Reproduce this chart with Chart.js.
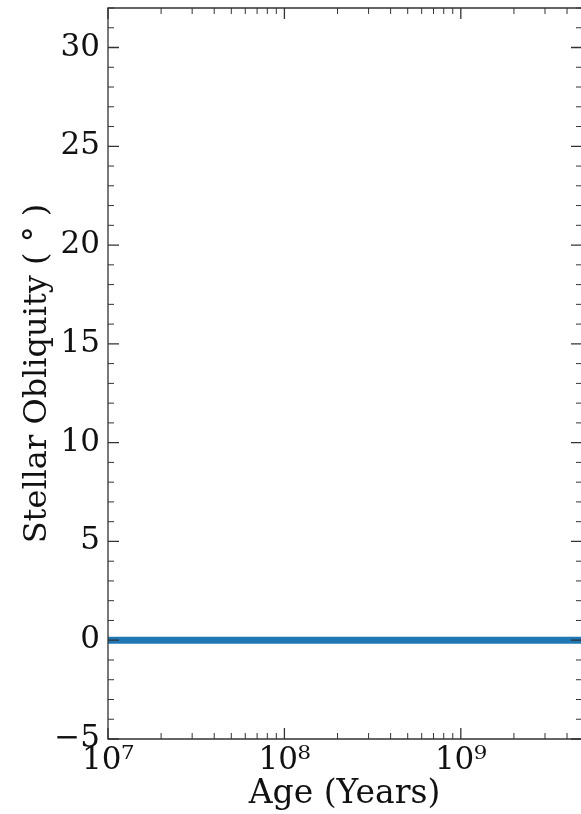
<!DOCTYPE html>
<html lang="en">
<head>
    <meta charset="UTF-8">
    <title>Stellar Obliquity vs Age</title>
    <script src="https://cdn.jsdelivr.net/npm/chart.js"></script>
    <style>
        body { margin: 0; padding: 0; background: #fff; }
        #wrap { width: 581px; height: 814px; }
    </style>
</head>
<body>
    <div id="wrap"><canvas id="chart" width="581" height="814"></canvas></div>

    <script>
        // data
        const ages = [1e7, 1e8, 1e9, 4.8e9];
        const obliquity = [0, 0, 0, 0];
        const xTickValues = [1e7, 1e8, 1e9];
        const xTickLabels = ["10\u2077", "10\u2078", "10\u2079"];
        const yTickValues = [-5, 0, 5, 10, 15, 20, 25, 30];

        const serif = "'DejaVu Serif', serif";

        // matplotlib style inward ticks on all four sides
        const inwardTicks = {
            id: 'inwardTicks',
            afterDraw(chart) {
                const ctx = chart.ctx;
                const a = chart.chartArea;
                const xs = chart.scales.x, ys = chart.scales.y;
                ctx.save();
                ctx.strokeStyle = '#333';
                ctx.lineWidth = 1.3;
                // right spine falls just outside the picture
                ctx.beginPath();
                ctx.moveTo(a.right + 2, a.top);
                ctx.lineTo(a.left, a.top);
                ctx.lineTo(a.left, a.bottom);
                ctx.lineTo(a.right + 2, a.bottom);
                ctx.stroke();

                function tick(px, len, horiz) {
                    ctx.beginPath();
                    if (horiz) {
                        ctx.moveTo(px, a.bottom); ctx.lineTo(px, a.bottom - len);
                        ctx.moveTo(px, a.top); ctx.lineTo(px, a.top + len);
                    } else {
                        ctx.moveTo(a.left, px); ctx.lineTo(a.left + len, px);
                        ctx.moveTo(a.right + 1, px); ctx.lineTo(a.right + 1 - len, px);
                    }
                    ctx.stroke();
                }
                xTickValues.forEach(v => tick(xs.getPixelForValue(v), 11, true));
                yTickValues.forEach(v => tick(ys.getPixelForValue(v), 11, false));
                ctx.lineWidth = 1;
                for (let e = 7; e <= 9; e++) {
                    for (let k = 2; k <= 9; k++) {
                        const v = k * Math.pow(10, e);
                        if (v <= xs.max) tick(xs.getPixelForValue(v), 6, true);
                    }
                }
                for (let v = ys.min; v <= ys.max; v++) {
                    if (v % 5 !== 0) tick(ys.getPixelForValue(v), 6, false);
                }
                ctx.restore();
            }
        };

        new Chart(document.getElementById('chart').getContext('2d'), {
            type: 'line',
            data: {
                labels: ages,
                datasets: [{
                    data: ages.map((a, i) => ({ x: a, y: obliquity[i] })),
                    borderColor: '#1f77b4',
                    borderWidth: 7,
                    pointRadius: 0,
                    fill: false
                }]
            },
            options: {
                responsive: false,
                animation: false,
                layout: { padding: { left: 0, right: 0, top: 8, bottom: 0 } },
                plugins: { legend: { display: false }, tooltip: { enabled: false } },
                scales: {
                    x: {
                        type: 'logarithmic',
                        min: 1e7,
                        max: 4.8e9,
                        grid: { display: false },
                        border: { display: false },
                        afterBuildTicks: s => { s.ticks = xTickValues.map(v => ({ value: v })); },
                        afterFit: s => { s.height = 75; s.paddingLeft = 0; s.paddingRight = 0; },
                        ticks: {
                            autoSkip: false,
                            maxRotation: 0,
                            padding: -5,
                            color: '#111',
                            font: { family: serif, size: 31 },
                            callback: (v) => xTickLabels[xTickValues.indexOf(v)]
                        },
                        title: {
                            display: true,
                            text: 'Age (Years)',
                            color: '#111',
                            font: { family: serif, size: 33 },
                            padding: { top: 0, bottom: 0 }
                        }
                    },
                    y: {
                        min: -5,
                        max: 32,
                        grid: { display: false },
                        border: { display: false },
                        afterBuildTicks: s => { s.ticks = yTickValues.map(v => ({ value: v })); },
                        afterFit: s => { s.width = 108; s.paddingTop = 0; s.paddingBottom = 0; },
                        ticks: {
                            padding: 0,
                            color: '#111',
                            font: { family: serif, size: 31 },
                            callback: v => v < 0 ? '\u2212' + Math.abs(v) : String(v)
                        },
                        title: {
                            display: true,
                            text: 'Stellar Obliquity ( \u00b0 )',
                            color: '#111',
                            font: { family: serif, size: 32 },
                            padding: { top: 18, bottom: 0 }
                        }
                    }
                }
            },
            plugins: [inwardTicks]
        });
    </script>
</body>
</html>
